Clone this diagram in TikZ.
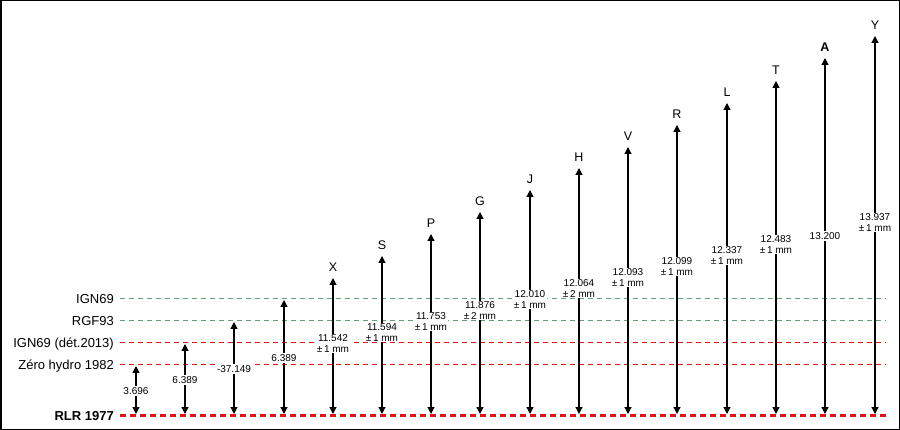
\documentclass[tikz,border=0pt]{standalone}
\usepackage{fontspec}
\setmainfont{Liberation Sans}
\usetikzlibrary{arrows.meta,calc}
\definecolor{refgreen}{RGB}{95,160,120}
\definecolor{refred}{RGB}{225,20,20}
\begin{document}
\begin{tikzpicture}[x=1pt,y=-1pt,
  levelname/.style={anchor=base east,font=\fontsize{13}{13}\selectfont,inner sep=0pt},
  val/.style={fill=white,align=center,font=\fontsize{10}{11}\selectfont,inner sep=1pt},
  ptname/.style={anchor=base,font=\fontsize{12.5}{13}\selectfont,inner sep=0pt},
  dimarrow/.style={line width=1.2pt,{Triangle[width=7pt,length=7pt]}-{Triangle[width=7pt,length=7pt]}},
  greenlevel/.style={refgreen,line width=1pt,dash pattern=on 5pt off 4pt},
  redlevel/.style={refred,line width=1pt,dash pattern=on 5pt off 4pt},
  baselevel/.style={refred,line width=2.5pt,dash pattern=on 6pt off 4pt}]
\useasboundingbox (0,0) rectangle (900,430);
\draw[line width=1.5pt] (0.75,0.75) rectangle (899.25,429.25);
% level lines
\coordinate (l1s) at (120,299); \coordinate (l1e) at (886,299);
\coordinate (l2s) at (120,321); \coordinate (l2e) at (886,321);
\coordinate (l3s) at (120,343); \coordinate (l3e) at (886,343);
\coordinate (l4s) at (120,365); \coordinate (l4e) at (886,365);
\coordinate (l5s) at (120,415.5); \coordinate (l5e) at (886,415.5);
\draw[greenlevel] (l1s) -- (l1e);
\draw[greenlevel] (l2s) -- (l2e);
\draw[redlevel] (l3s) -- (l3e);
\draw[redlevel] (l4s) -- (l4e);
\draw[baselevel] (l5s) -- (l5e);
\node[levelname] (n1) at (114,303.5) {IGN69};
\node[levelname] (n2) at (114,325.5) {RGF93};
\node[levelname] (n3) at (114,347.5) {IGN69 (dét.2013)};
\node[levelname] (n4) at (114,369.5) {Zéro hydro 1982};
\node[levelname,font=\fontsize{13}{13}\selectfont\bfseries] (n5) at (114,420.5) {RLR 1977};
% arrows
\foreach \i/\x/\t/\vy/\txt in {
  1/136/366/391/{3.696},
  2/185/344/380/{6.389},
  3/234/322/369/{-37.149},
  4/284/300/358/{6.389},
  5/333/278/343.5/{11.542\\±\,1 mm},
  6/382/256/332.5/{11.594\\±\,1 mm},
  7/431/234/321.5/{11.753\\±\,1 mm},
  8/480/212/310.5/{11.876\\±\,2 mm},
  9/530/190/299.5/{12.010\\±\,1 mm},
  10/579/168/288.5/{12.064\\±\,2 mm},
  11/628/147/277.5/{12.093\\±\,1 mm},
  12/677/125/266.5/{12.099\\±\,1 mm},
  13/727/103/255.5/{12.337\\±\,1 mm},
  14/776/81/244.5/{12.483\\±\,1 mm},
  15/825/58/236/{13.200},
  16/875/36/222.5/{13.937\\±\,1 mm}} {
  \coordinate (t\i) at (\x,\t);
  \coordinate (b\i) at (\x,414);
  \draw[dimarrow] (b\i) -- (t\i);
  \node[val] (v\i) at (\x,\vy) {\txt};
}
\foreach \i/\nm in {5/X,6/S,7/P,8/G,9/J,10/H,11/V,12/R,13/L,14/T,15/\textbf{A},16/Y} {
  \node[ptname] (p\i) at ($(t\i)+(0,-6)$) {\nm};
}
\end{tikzpicture}
\end{document}
